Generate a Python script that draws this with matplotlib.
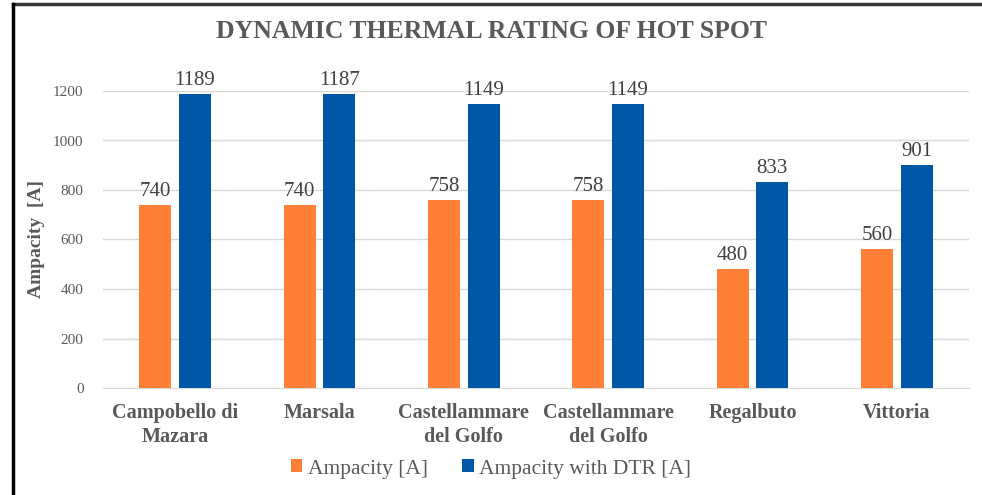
import matplotlib.pyplot as plt
import numpy as np
from matplotlib.lines import Line2D

plt.rcParams['font.family'] = ['Liberation Serif', 'DejaVu Serif']

sites = ['Campobello di\nMazara', 'Marsala', 'Castellammare\ndel Golfo',
         'Castellammare\ndel Golfo', 'Regalbuto', 'Vittoria']
ampacity = [740, 740, 758, 758, 480, 560]
ampacity_dtr = [1189, 1187, 1149, 1149, 833, 901]

fig = plt.figure(figsize=(9.82, 4.95), dpi=100)
ax = fig.add_axes([103/982, 1 - 388/495, 866/982, (388-91)/495])

x = np.arange(len(sites))
w = 0.22
gap = 0.055
b1 = ax.bar(x - (w + gap)/2, ampacity, w, color='#FF7F37', label='Ampacity [A]', zorder=3)
b2 = ax.bar(x + (w + gap)/2, ampacity_dtr, w, color='#0057A8', label='Ampacity with DTR [A]', zorder=3)

for bars in (b1, b2):
    for r in bars:
        ax.text(r.get_x() + r.get_width()/2, r.get_height() + 16, f'{int(r.get_height())}',
                ha='center', va='bottom', fontsize=15, color='#404040')

ax.set_xlim(-0.5, len(sites) - 0.5)
ax.set_ylim(0, 1200)
ax.set_yticks(range(0, 1201, 200))
ax.grid(axis='y', color='#D9D9D9', linewidth=1, zorder=0)
for s in ['top', 'right', 'left']:
    ax.spines[s].set_visible(False)
ax.spines['bottom'].set_color('#D9D9D9')
ax.tick_params(axis='both', length=0)
ax.tick_params(axis='y', labelsize=11, labelcolor='#595959', pad=14)
ax.set_xticks(x)
ax.set_xticklabels(sites, fontsize=14.5, fontweight='bold', color='#595959', linespacing=1.25)
ax.tick_params(axis='x', pad=11)
ax.set_ylabel('Ampacity  [A]', fontsize=14, fontweight='bold', color='#595959', labelpad=6)

fig.text(0.5, 1 - 31/495, 'DYNAMIC THERMAL RATING OF HOT SPOT', ha='center', va='center',
         fontsize=18.5, fontweight='bold', color='#595959')

fig.legend(handles=[b1, b2], loc='center', bbox_to_anchor=(0.5, 1 - 469/495), ncol=2,
           frameon=False, fontsize=15.5, handlelength=0.55, handleheight=0.55,
           handletextpad=0.25, columnspacing=1.6, labelcolor='#595959')

# frame of the screenshot
fig.add_artist(Line2D([13/982, 1], [1 - 4/495, 1 - 4/495], color='#333333', linewidth=2.5))
fig.add_artist(Line2D([13/982, 13/982], [0, 1 - 4/495], color='black', linewidth=2.5))

fig.savefig('out.png', dpi=100, facecolor='white')
